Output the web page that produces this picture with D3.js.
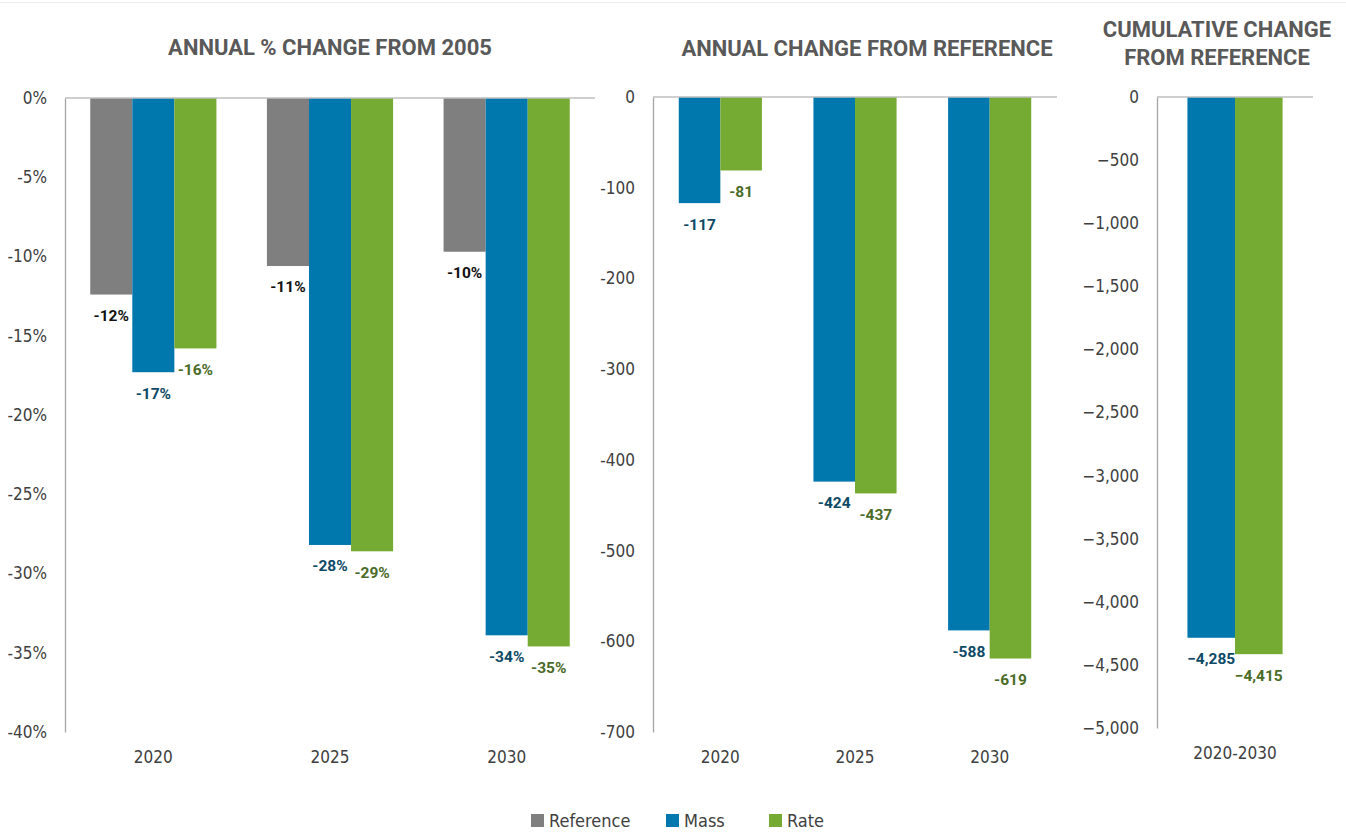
<!DOCTYPE html>
<html>
<head>
<meta charset="utf-8">
<script src="https://cdn.jsdelivr.net/npm/d3@7/dist/d3.min.js"></script>
<style>
  body { margin: 0; background: #fff; }
  svg { display: block; }
  .tick text { font-family: "Liberation Sans Narrow", "DejaVu Sans Condensed", sans-serif; font-stretch: condensed; font-size: 17px; fill: #404040; }
  .title { font-family: Roboto, "Liberation Sans", sans-serif; font-weight: 700; font-size: 22px; fill: #595959; }
  .val { font-family: Roboto, "Liberation Sans", sans-serif; font-weight: 700; font-size: 15.5px; }
  .leg { font-family: "Liberation Sans Narrow", "DejaVu Sans Condensed", sans-serif; font-stretch: condensed; font-size: 18px; fill: #404040; }
</style>
</head>
<body>
<div id="chart"></div>
<script>
"use strict";

// series
var seriesNames = ["Reference", "Mass", "Rate"];
var seriesColors = { Reference: "#7f7f7f", Mass: "#0077ad", Rate: "#76ab33" };
var labelColors = { Reference: "#111111", Mass: "#0e4a66", Rate: "#4b6b28" };

// panel 1: annual % change from 2005
var years = ["2020", "2025", "2030"];
var pctReference = [-12.4, -10.6, -9.7];
var pctMass = [-17.3, -28.2, -33.9];
var pctRate = [-15.8, -28.6, -34.6];
var pctTicks = [0, -5, -10, -15, -20, -25, -30, -35, -40];

// panel 2: annual change from reference
var annMass = [-117, -424, -588];
var annRate = [-81, -437, -619];
var annTicks = [0, -100, -200, -300, -400, -500, -600, -700];

// panel 3: cumulative change from reference
var cumPeriods = ["2020-2030"];
var cumMass = [-4285];
var cumRate = [-4415];
var cumTicks = [0, -500, -1000, -1500, -2000, -2500, -3000, -3500, -4000, -4500, -5000];

const W = 1346, H = 832;
let svg = d3.select("#chart").append("svg").attr("width", W).attr("height", H);

svg.append("line")
  .attr("x1", 0).attr("x2", W).attr("y1", 2.5).attr("y2", 2.5)
  .attr("stroke", "#eeeeee").attr("stroke-width", 1);

function drawPanel(cfg) {
  let g = svg.append("g");
  let x0 = d3.scaleBand().domain(cfg.cats).range([cfg.left, cfg.right]).paddingInner(0).paddingOuter(0);
  let x1 = d3.scaleBand().domain(cfg.series).range([0, x0.bandwidth()]).paddingInner(0).paddingOuter(cfg.pad);
  let y = d3.scaleLinear().domain([cfg.min, 0]).range([cfg.bottom, cfg.top]);

  // axis
  let ax = g.append("g")
    .attr("transform", `translate(${cfg.left},0)`)
    .call(d3.axisLeft(y).tickValues(cfg.ticks).tickSize(0).tickPadding(18).tickSizeOuter(0).tickFormat(cfg.fmt));
  ax.select(".domain").attr("stroke", "#a6a6a6").attr("stroke-width", 1.3);

  // bars
  let rows = [];
  cfg.cats.forEach((c, i) => {
    cfg.series.forEach(s => rows.push({ cat: c, s: s, v: cfg.values[s][i] }));
  });
  g.selectAll("rect.bar").data(rows).enter().append("rect")
    .attr("class", "bar")
    .attr("x", d => x0(d.cat) + x1(d.s))
    .attr("width", x1.bandwidth())
    .attr("y", y(0))
    .attr("height", d => y(d.v) - y(0))
    .attr("fill", d => seriesColors[d.s]);

  g.selectAll("text.val").data(rows).enter().append("text")
    .attr("class", "val")
    .attr("x", d => x0(d.cat) + x1(d.s) + x1.bandwidth() / 2)
    .attr("y", d => y(d.v) + 21)
    .attr("dy", "0.35em")
    .attr("text-anchor", "middle")
    .attr("fill", d => labelColors[d.s])
    .text(d => cfg.valFmt(d.v));

  // zero line
  g.append("line")
    .attr("x1", cfg.left).attr("x2", cfg.right)
    .attr("y1", y(0)).attr("y2", y(0))
    .attr("stroke", "#bfbfbf").attr("stroke-width", 1.5);

  // category labels
  g.selectAll("text.cat").data(cfg.cats).enter().append("text")
    .attr("class", "tick")
    .attr("x", d => x0(d) + x0.bandwidth() / 2)
    .attr("y", cfg.catY)
    .attr("dy", "0.35em")
    .attr("text-anchor", "middle")
    .style("font-family", '"Liberation Sans Narrow", "DejaVu Sans Condensed", sans-serif')
    .style("font-stretch", "condensed")
    .style("font-size", "17px").style("fill", "#404040")
    .text(d => d);

  // title
  cfg.title.forEach((t, i) => {
    g.append("text").attr("class", "title")
      .attr("x", cfg.titleX).attr("y", cfg.titleY + i * 28)
      .attr("text-anchor", "middle")
      .text(t);
  });
}

drawPanel({
  cats: years, series: seriesNames,
  values: { Reference: pctReference, Mass: pctMass, Rate: pctRate },
  left: 65, right: 595, top: 98, bottom: 732, min: -40, pad: 0.6,
  ticks: pctTicks, fmt: d => d + "%", valFmt: v => Math.round(v) + "%",
  catY: 757, title: ["ANNUAL % CHANGE FROM 2005"], titleX: 330, titleY: 55
});

drawPanel({
  cats: years, series: ["Mass", "Rate"],
  values: { Mass: annMass, Rate: annRate },
  left: 653, right: 1057, top: 97, bottom: 732, min: -700, pad: 0.62,
  ticks: annTicks, fmt: d => d, valFmt: v => Math.round(v),
  catY: 757, title: ["ANNUAL CHANGE FROM REFERENCE"], titleX: 867, titleY: 56
});

drawPanel({
  cats: cumPeriods, series: ["Mass", "Rate"],
  values: { Mass: cumMass, Rate: cumRate },
  left: 1157, right: 1313, top: 97, bottom: 728, min: -5000, pad: 0.64,
  ticks: cumTicks, fmt: d3.format(",d"), valFmt: d3.format(",d"),
  catY: 753, title: ["CUMULATIVE CHANGE", "FROM REFERENCE"], titleX: 1217, titleY: 37
});

// legend
let legX = [531, 666, 769];
let leg = svg.append("g");
seriesNames.forEach((s, i) => {
  leg.append("rect").attr("x", legX[i]).attr("y", 814).attr("width", 13).attr("height", 13)
    .attr("fill", seriesColors[s]);
  leg.append("text").attr("class", "leg").attr("x", legX[i] + 18).attr("y", 821)
    .attr("dy", "0.35em").text(s);
});
</script>
</body>
</html>
